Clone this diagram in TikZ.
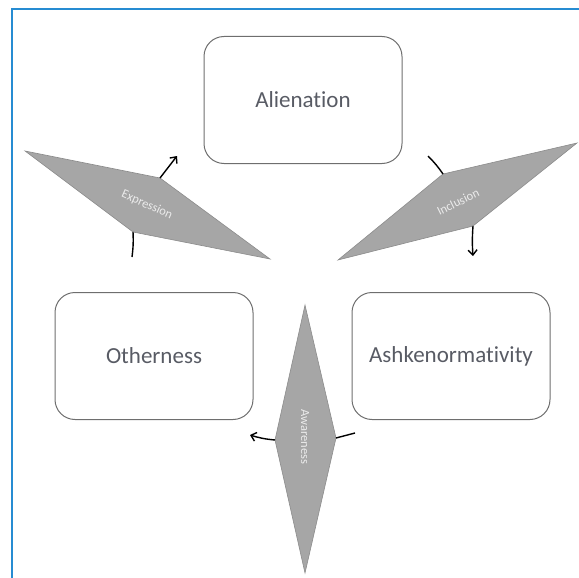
\documentclass[tikz,border=0pt]{standalone}
\usepackage{fontspec}
\setmainfont{Carlito}[Ligatures=NoCommon]
\usetikzlibrary{arrows.meta}
\definecolor{frameblue}{RGB}{38,140,210}
\definecolor{boxline}{RGB}{110,110,110}
\definecolor{boxtext}{RGB}{88,91,100}
\definecolor{shapefill}{RGB}{166,166,166}
\definecolor{shapeline}{RGB}{140,140,140}
\tikzset{
  conceptbox/.style={draw=boxline, line width=1pt, rounded corners=20pt, minimum width=198pt, minimum height=127pt, inner sep=0pt, text=boxtext, font=\fontsize{23}{27}\selectfont},
  forceshape/.style={fill=shapefill, draw=shapeline, line width=0.6pt},
  forcelabel/.style={text=white!92!black, font=\fontsize{12.5}{14}\selectfont, inner sep=0pt},
  flow/.style={line width=1.4pt, black},
  flowarrow/.style={flow, -{Straight Barb[length=5pt,width=9pt,line width=1.4pt]}}
}
\begin{document}
\begin{tikzpicture}[x=1pt,y=-1pt]
\useasboundingbox (0,0) rectangle (579,578);
\draw[frameblue, line width=2.6pt] (12,578) -- (12,9) -- (579,9);

% concept boxes
\node[conceptbox] (alien) at (303,100) {Alienation};
\node[conceptbox] (other) at (154,356) {Otherness};
\node[conceptbox] (ashk) at (451,356) {Ashkenormativity};

% Expression
\coordinate (e1) at (25,151);
\coordinate (e2) at (160,178);
\coordinate (e3) at (270,259);
\coordinate (e4) at (133,232);
\draw[forceshape] (e1) -- (e2) -- (e3) -- (e4) -- cycle;
\node[forcelabel, rotate=-24] (expr) at (147,205) {Expression};
\coordinate (eOut) at (177,156);
\coordinate (eIn) at (132,257);
\draw[flowarrow] (e2) -- (eOut);
\draw[flow] (eIn) to[bend right=5] (e4);

% Inclusion
\coordinate (i1) at (577,143);
\coordinate (i2) at (443,174);
\coordinate (i3) at (338,260);
\coordinate (i4) at (473,226);
\draw[forceshape] (i1) -- (i2) -- (i3) -- (i4) -- cycle;
\node[forcelabel, rotate=26] (incl) at (458,202) {Inclusion};
\coordinate (iIn) at (428,156);
\coordinate (iOut) at (473,256);
\draw[flow] (iIn) to[bend left=5] (i2);
\draw[flowarrow] (i4) to[bend right=4] (iOut);

% Awareness
\coordinate (a1) at (305,305);
\coordinate (a2) at (336,438);
\coordinate (a3) at (305,573);
\coordinate (a4) at (275,440);
\draw[forceshape] (a1) -- (a2) -- (a3) -- (a4) -- cycle;
\node[forcelabel, rotate=-90] (aware) at (305,437) {Awareness};
\coordinate (aIn) at (355,433);
\coordinate (aOut) at (250,435);
\draw[flow] (aIn) -- (a2);
\draw[flowarrow] (a4) to[bend left=6] (aOut);
\end{tikzpicture}
\end{document}
